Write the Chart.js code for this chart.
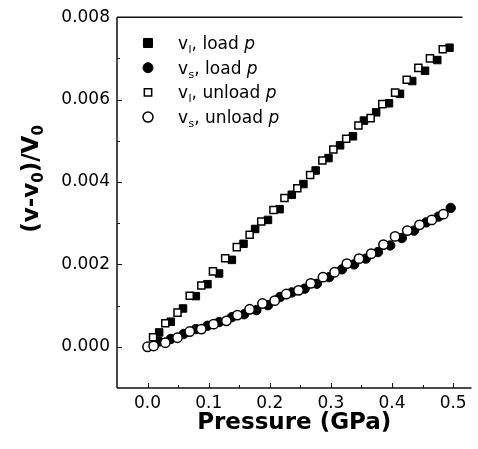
<!DOCTYPE html>
<html><head><meta charset="utf-8">
<script src="https://cdn.jsdelivr.net/npm/chart.js@4"></script>
<style>html,body{margin:0;padding:0;background:#fff}canvas{display:block}</style>
</head><body>
<canvas id="c" width="478" height="449"></canvas>
<script>
// ---- tick labels ----
const xTicks = [0.0, 0.1, 0.2, 0.3, 0.4, 0.5];
const yTicks = [0.000, 0.002, 0.004, 0.006, 0.008];
const xMinor = [0.05, 0.15, 0.25, 0.35, 0.45];
const yMinor = [0.001, 0.003, 0.005, 0.007];

// ---- v_l, load p (filled squares) ----
const vlLoadP = [0.019,0.038,0.058,0.079,0.098,0.117,0.138,0.157,0.176,0.197,0.216,0.236,0.255,0.275,0.296,0.315,0.336,0.354,0.374,0.395,0.413,0.433,0.454,0.474,0.494];
const vlLoadV = [0.00035,0.00061,0.00093,0.00123,0.00152,0.00178,0.00211,0.00250,0.00286,0.00308,0.00334,0.00369,0.00395,0.00428,0.00458,0.00489,0.00511,0.00549,0.00569,0.00591,0.00614,0.00645,0.00670,0.00696,0.00726];

// ---- v_s, load p (filled circles) ----
const vsLoadP = [0.019,0.038,0.059,0.079,0.098,0.117,0.138,0.158,0.178,0.197,0.217,0.236,0.257,0.277,0.297,0.318,0.338,0.357,0.377,0.397,0.416,0.436,0.456,0.476,0.496];
const vsLoadV = [0.00013,0.00019,0.00031,0.00043,0.00051,0.00060,0.00072,0.00079,0.00089,0.00101,0.00121,0.00132,0.00141,0.00153,0.00169,0.00188,0.00200,0.00214,0.00230,0.00246,0.00264,0.00282,0.00302,0.00316,0.00337];

// ---- v_l, unload p (open squares) ----
const vlUnloadP = [0.009,0.029,0.049,0.069,0.088,0.107,0.127,0.146,0.167,0.186,0.206,0.224,0.245,0.266,0.286,0.304,0.325,0.345,0.365,0.384,0.405,0.424,0.443,0.462,0.483];
const vlUnloadV = [0.00023,0.00057,0.00083,0.00124,0.00149,0.00183,0.00215,0.00242,0.00272,0.00304,0.00332,0.00361,0.00385,0.00417,0.00452,0.00479,0.00505,0.00537,0.00555,0.00589,0.00617,0.00648,0.00677,0.00700,0.00722];

// ---- v_s, unload p (open circles) ----
const vsUnloadP = [0.000,0.010,0.029,0.049,0.069,0.088,0.108,0.129,0.147,0.167,0.188,0.208,0.227,0.247,0.267,0.287,0.306,0.326,0.346,0.366,0.386,0.405,0.425,0.445,0.465,0.484];
const vsUnloadV = [0.00000,0.00002,0.00010,0.00022,0.00037,0.00043,0.00055,0.00063,0.00077,0.00091,0.00105,0.00112,0.00128,0.00137,0.00154,0.00169,0.00181,0.00202,0.00214,0.00226,0.00248,0.00268,0.00282,0.00296,0.00308,0.00322];

// ---- legend text ----
const legendSubs = ['l', 's', 'l', 's'];
const legendWords = ['load', 'load', 'unload', 'unload'];
const xTitle = 'Pressure (GPa)';

function pts(P, V) { return P.map((p, i) => ({x: p, y: V[i]})); }

const FONT = '"DejaVu Sans", sans-serif';

const frameTicks = {
  id: 'frameTicks',
  afterDatasetsDraw(chart) {
    const {ctx, chartArea: a, scales: {x, y}} = chart;
    ctx.save();
    ctx.strokeStyle = '#111';
    ctx.lineWidth = 1.5;
    ctx.beginPath();
    ctx.moveTo(a.left, a.top); ctx.lineTo(a.right - 9, a.top);
    ctx.moveTo(a.left, a.top); ctx.lineTo(a.left, a.bottom);
    ctx.moveTo(a.left, a.bottom); ctx.lineTo(a.right, a.bottom);
    ctx.stroke();
    ctx.lineWidth = 1;
    ctx.beginPath();
    xTicks.forEach(v => { const px = Math.round(x.getPixelForValue(v)) + 0.5; ctx.moveTo(px, a.bottom); ctx.lineTo(px, a.bottom - 5); });
    xMinor.forEach(v => { const px = Math.round(x.getPixelForValue(v)) + 0.5; ctx.moveTo(px, a.bottom); ctx.lineTo(px, a.bottom - 3); });
    yTicks.forEach(v => { const py = Math.round(y.getPixelForValue(v)) + 0.5; ctx.moveTo(a.left, py); ctx.lineTo(a.left + 5, py); });
    yMinor.forEach(v => { const py = Math.round(y.getPixelForValue(v)) + 0.5; ctx.moveTo(a.left, py); ctx.lineTo(a.left + 3, py); });
    ctx.stroke();
    ctx.restore();
  },
  afterDraw(chart) {
    const {ctx} = chart;
    // y-axis title with subscripts
    ctx.save();
    ctx.fillStyle = '#000';
    ctx.translate(38, 179);
    ctx.rotate(-Math.PI / 2);
    const big = 'bold 23px ' + FONT, small = 'bold 15px ' + FONT;
    const parts = [['(v-v', big, 0], ['0', small, 5], [')/V', big, 0], ['0', small, 5]];
    let total = 0;
    parts.forEach(p => { ctx.font = p[1]; total += ctx.measureText(p[0]).width; });
    let cx = -total / 2;
    ctx.textBaseline = 'alphabetic';
    parts.forEach(p => { ctx.font = p[1]; ctx.fillText(p[0], cx, p[2]); cx += ctx.measureText(p[0]).width; });
    ctx.restore();

    // legend
    ctx.save();
    const styles = chart.data.datasets;
    for (let i = 0; i < 4; i++) {
      const yy = 43 + 24.7 * i;
      const ds = styles[i];
      ctx.fillStyle = ds.backgroundColor;
      ctx.strokeStyle = ds.borderColor;
      ctx.lineWidth = ds.borderWidth;
      const r = ds.pointStyle === 'rect' ? (i === 0 ? 6.4 : 5.2) : 5;
      Chart.helpers.drawPoint(ctx, {pointStyle: ds.pointStyle, radius: r, borderWidth: ds.borderWidth, rotation: 0}, 148, yy);
      ctx.fillStyle = '#000';
      ctx.textBaseline = 'alphabetic';
      let tx = 178;
      ctx.font = '17px ' + FONT;
      ctx.fillText('v', tx, yy + 6); tx += ctx.measureText('v').width;
      ctx.font = '11px ' + FONT;
      ctx.fillText(legendSubs[i], tx + 0.5, yy + 10); tx += ctx.measureText(legendSubs[i]).width + 0.5;
      ctx.font = '17px ' + FONT;
      const w = ', ' + legendWords[i] + ' ';
      ctx.fillText(w, tx, yy + 6); tx += ctx.measureText(w).width;
      ctx.font = 'italic 17px ' + FONT;
      ctx.fillText('p', tx, yy + 6);
    }
    ctx.restore();
  }
};

new Chart(document.getElementById('c'), {
  type: 'scatter',
  data: {
    datasets: [
      {label: 'vl load', data: pts(vlLoadP, vlLoadV), pointStyle: 'rect', pointRadius: 5.3, backgroundColor: '#000', borderColor: '#000', borderWidth: 1, order: 4},
      {label: 'vs load', data: pts(vsLoadP, vsLoadV), pointStyle: 'circle', pointRadius: 4.7, backgroundColor: '#000', borderColor: '#000', borderWidth: 1, order: 3},
      {label: 'vl unload', data: pts(vlUnloadP, vlUnloadV), pointStyle: 'rect', pointRadius: 5, backgroundColor: '#fff', borderColor: '#000', borderWidth: 1.5, order: 2},
      {label: 'vs unload', data: pts(vsUnloadP, vsUnloadV), pointStyle: 'circle', pointRadius: 4.7, backgroundColor: '#fff', borderColor: '#000', borderWidth: 1.5, order: 1}
    ]
  },
  options: {
    responsive: false,
    animation: false,
    events: [],
    layout: {padding: {top: 15, right: 1, left: 0, bottom: 0}},
    plugins: {legend: {display: false}, tooltip: {enabled: false}},
    elements: {point: {hoverRadius: 0}},
    scales: {
      x: {
        type: 'linear', min: -0.05, max: 0.53,
        afterBuildTicks: s => { s.ticks = xTicks.map(v => ({value: v})); },
        afterFit: s => { s.height = 61; },
        ticks: {callback: v => Number(v).toFixed(1), font: {family: FONT, size: 17}, color: '#000', padding: 5, maxRotation: 0, autoSkip: false},
        grid: {display: false, drawTicks: false},
        border: {display: false},
        title: {display: true, text: xTitle, font: {family: FONT, size: 23, weight: 'bold'}, color: '#000', padding: {top: 0, bottom: 12}}
      },
      y: {
        type: 'linear', min: -0.001, max: 0.008,
        afterBuildTicks: s => { s.ticks = yTicks.map(v => ({value: v})); },
        afterFit: s => { s.width = 117; },
        ticks: {callback: v => Number(v).toFixed(3), font: {family: FONT, size: 17}, color: '#000', padding: 7, autoSkip: false},
        grid: {display: false, drawTicks: false},
        border: {display: false}
      }
    }
  },
  plugins: [frameTicks]
});
</script>
</body></html>
